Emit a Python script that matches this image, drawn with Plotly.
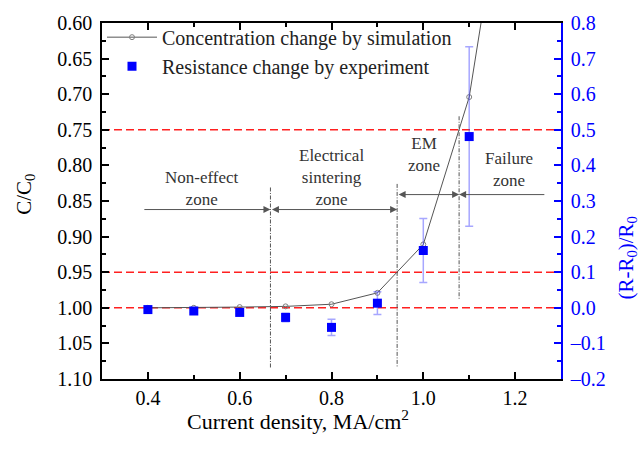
import plotly.graph_objects as go

# ---------------- data ----------------
current_sim = [0.4, 0.5, 0.6, 0.7, 0.8, 0.9, 1.0, 1.1, 1.2]
conc_ratio = [1.000, 1.000, 0.999, 0.998, 0.995, 0.979, 0.911, 0.704, 0.30]

current_exp = [0.4, 0.5, 0.6, 0.7, 0.8, 0.9, 1.0, 1.1]
res_change = [-0.005, -0.009, -0.013, -0.027, -0.055, 0.013, 0.161, 0.481]
res_err = [0.004, 0.004, 0.004, 0.012, 0.023, 0.032, 0.090, 0.252]

ref_levels_c = [0.75, 0.95, 1.00]          # red dashed reference levels (C/C0)
zone_bounds = [0.667, 0.943, 1.078]        # zone boundaries (current density)
zone_names = ["Non-effect<br>zone", "Electrical<br>sintering<br>zone", "EM<br>zone", "Failure<br>zone"]

left_ticks = [0.60, 0.65, 0.70, 0.75, 0.80, 0.85, 0.90, 0.95, 1.00, 1.05, 1.10]
right_ticks = [-0.2, -0.1, 0.0, 0.1, 0.2, 0.3, 0.4, 0.5, 0.6, 0.7, 0.8]
x_ticks = [0.4, 0.6, 0.8, 1.0, 1.2]

FONT = "Liberation Serif"
BLUE = "#0000ff"
GRAY = "#555555"

fig = go.Figure()

fig.add_trace(go.Scatter(
    x=current_sim, y=conc_ratio, mode="lines+markers",
    name="Concentration change by simulation",
    line=dict(color="#555555", width=1),
    marker=dict(symbol="circle-open", size=5, color="#808080", line=dict(width=1)),
    yaxis="y", cliponaxis=True,
))
fig.add_trace(go.Scatter(
    x=current_exp, y=res_change, mode="markers",
    name="Resistance change by experiment",
    marker=dict(symbol="square", size=9, color=BLUE),
    error_y=dict(type="data", array=res_err, visible=True,
                 color="rgba(60,60,255,0.45)", thickness=1.5, width=4),
    yaxis="y2",
))

shapes = []
for lv in ref_levels_c:
    shapes.append(dict(type="line", xref="paper", x0=0, x1=1, yref="y", y0=lv, y1=lv,
                       line=dict(color="#ff2020", width=1.5, dash="8px,4px"), layer="below"))
zone_y = [(0.831, 1.085), (0.826, 1.083), (0.731, 0.988)]
for xb, (ya, yb) in zip(zone_bounds, zone_y):
    shapes.append(dict(type="line", xref="x", x0=xb, x1=xb, yref="y", y0=ya, y1=yb,
                       line=dict(color=GRAY, width=1, dash="4px,1.5px,1px,1.5px")))

annotations = []

def arrow(x_tail, x_head, y, both=False):
    annotations.append(dict(
        x=x_head, y=y, ax=x_tail, ay=y, xref="x", yref="y", axref="x", ayref="y",
        text="", showarrow=True, arrowhead=2, startarrowhead=2, arrowsize=1.4,
        startarrowsize=1.4, arrowwidth=1, arrowcolor=GRAY,
        arrowside="end+start" if both else "end", standoff=0, startstandoff=0))

arrow(0.389, zone_bounds[0], 0.862)
arrow(zone_bounds[0], zone_bounds[1], 0.862, both=True)
arrow(zone_bounds[1], zone_bounds[2], 0.841, both=True)
arrow(1.267, zone_bounds[2], 0.841)

label_pos = [(0.517, 0.832), (0.799, 0.817), (1.002, 0.785), (1.187, 0.806)]
for (lx, ly), txt in zip(label_pos, zone_names):
    annotations.append(dict(x=lx, y=ly, xref="x", yref="y", text=txt, showarrow=False,
                            font=dict(family=FONT, size=17, color="#333333"),
                            xanchor="center", yanchor="middle"))

# axis titles
annotations.append(dict(xref="paper", yref="paper", x=-0.168, y=0.52, text="C/C<sub>0</sub>",
                        textangle=-90, showarrow=False, xanchor="center", yanchor="middle",
                        font=dict(family=FONT, size=21, color="black")))
annotations.append(dict(xref="paper", yref="paper", x=1.143, y=0.34, text="(R-R<sub>0</sub>)/R<sub>0</sub>",
                        textangle=-90, showarrow=False, xanchor="center", yanchor="middle",
                        font=dict(family=FONT, size=21, color=BLUE)))
annotations.append(dict(xref="paper", yref="paper", x=0.428, y=-0.115,
                        text="Current density, MA/cm<sup>2</sup>",
                        showarrow=False, xanchor="center", yanchor="middle",
                        font=dict(family=FONT, size=22, color="black")))

fig.update_layout(
    width=641, height=454,
    margin=dict(l=102, r=80, t=19, b=75),
    paper_bgcolor="white", plot_bgcolor="white",
    font=dict(family=FONT, size=20, color="black"),
    showlegend=True,
    legend=dict(x=0.0, y=1.015, xanchor="left", yanchor="top", bgcolor="rgba(0,0,0,0)",
                font=dict(family=FONT, size=20, color="#222222"), itemwidth=50,
                tracegroupgap=0),
    xaxis=dict(range=[0.3, 1.3], tickvals=x_ticks, ticktext=[f"{v:.1f}" for v in x_ticks],
               ticks="inside", ticklen=7, tickwidth=1.5, tickcolor="black",
               showline=True, linecolor="black", linewidth=1.5, mirror="ticks",
               showgrid=False, zeroline=False,
               minor=dict(ticks="inside", ticklen=4, dtick=0.1, tick0=0.3, tickcolor="black", tickwidth=1.5),
               tickfont=dict(family=FONT, size=20)),
    yaxis=dict(range=[1.10, 0.60], tickvals=left_ticks, ticktext=[f"{v:.2f}" for v in left_ticks],
               ticks="inside", ticklen=7, tickwidth=1.5, tickcolor="black",
               showline=True, linecolor="black", linewidth=1.5, mirror=False,
               showgrid=False, zeroline=False,
               minor=dict(ticks="inside", ticklen=4, dtick=0.025, tick0=0.6, tickcolor="black", tickwidth=1.5),
               tickfont=dict(family=FONT, size=20), ticklabelstandoff=4),
    yaxis2=dict(range=[-0.2, 0.8], overlaying="y", side="right", tickvals=right_ticks,
                ticktext=[f"{v:.1f}".replace("-", "\u2013") for v in right_ticks],
                ticks="inside", ticklen=7, tickwidth=1.5, tickcolor=BLUE,
                showline=True, linecolor=BLUE, linewidth=1.5,
                showgrid=False, zeroline=False,
                minor=dict(ticks="inside", ticklen=4, dtick=0.05, tick0=-0.2, tickcolor=BLUE, tickwidth=1.5),
                tickfont=dict(family=FONT, size=20, color=BLUE), ticklabelstandoff=4),
    shapes=shapes, annotations=annotations,
)

fig.write_html("out.html")
